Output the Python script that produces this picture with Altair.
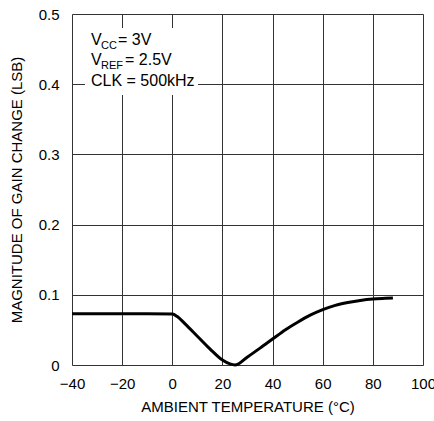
import altair as alt
import pandas as pd

temps = [-40, -30, -20, -10, 0, 2, 5, 10, 15, 20, 23, 25, 30, 35, 40, 45, 50, 55, 60, 65, 70, 75, 80, 85, 88]
gain = [0.073, 0.073, 0.073, 0.073, 0.0725, 0.069, 0.059, 0.041, 0.023, 0.007, 0.0015, 0.0, 0.0115, 0.024, 0.037, 0.050, 0.061, 0.071, 0.079, 0.085, 0.089, 0.092, 0.094, 0.095, 0.0955]

x_ticks = [-40, -20, 0, 20, 40, 60, 80, 100]
y_ticks = [0, 0.1, 0.2, 0.3, 0.4, 0.5]

FONT = "Liberation Sans"

df = pd.DataFrame({"t": temps, "g": gain})

xs = alt.Scale(domain=[-40, 100], nice=False, zero=False)
ys = alt.Scale(domain=[0, 0.5], nice=False)

line = alt.Chart(df).mark_line(color="black", strokeWidth=3, interpolate="monotone").encode(
    x=alt.X("t:Q", scale=xs, axis=alt.Axis(
        values=x_ticks, title="AMBIENT TEMPERATURE (°C)", grid=True, ticks=False,
        domain=False, labelPadding=11, titlePadding=8, format="d",
        labelFontSize=15, titleFontSize=15, labelFont=FONT, titleFont=FONT,
        labelColor="black", titleColor="black", titleFontWeight="normal",
        gridColor="#333", gridWidth=1, labelFlush=False)),
    y=alt.Y("g:Q", scale=ys, axis=alt.Axis(
        values=y_ticks, title="MAGNITUDE OF GAIN CHANGE (LSB)", grid=True, ticks=False,
        domain=False, labelPadding=13, titlePadding=14, format=".1~f",
        labelFontSize=15, titleFontSize=15, labelFont=FONT, titleFont=FONT,
        labelColor="black", titleColor="black", titleFontWeight="normal",
        gridColor="#333", gridWidth=1)),
)

box = alt.Chart(pd.DataFrame({"a": [0]})).mark_rect(color="white").encode(
    x=alt.value(13), x2=alt.value(126), y=alt.value(14), y2=alt.value(81)
)

def txt(s, x, y, size=16):
    return alt.Chart(pd.DataFrame({"s": [s]})).mark_text(
        align="left", baseline="alphabetic", font=FONT, fontSize=size, color="black"
    ).encode(text="s:N", x=alt.value(x), y=alt.value(y))

labels = [
    txt("V", 19, 31), txt("CC", 29, 34.5, 11), txt("= 3V", 46, 31),
    txt("V", 19, 51), txt("REF", 29, 54.5, 11), txt("= 2.5V", 53, 51),
    txt("CLK = 500kHz", 19, 72),
]

chart = alt.layer(line, box, *labels).properties(
    width=351, height=351,
    padding={"left": 72, "top": 14, "right": 11, "bottom": 56},
    autosize=alt.AutoSizeParams(type="none"),
).configure_view(stroke="black", strokeWidth=1.8).configure(background="white")

chart.save("out.html", embed_options={"renderer": "svg", "actions": False})
